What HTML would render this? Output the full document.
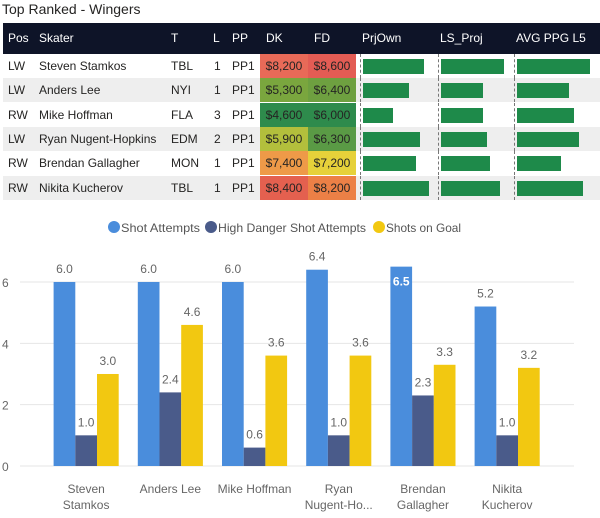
<!DOCTYPE html>
<html><head><meta charset="utf-8"><style>
body{margin:0;width:600px;height:518px;background:#fff;font-family:"Liberation Sans",sans-serif;overflow:hidden;position:relative}
.title{position:absolute;left:2px;top:1px;font-size:14px;color:#252423}
#tbl{position:absolute;left:3px;top:23px;width:597px;height:175px;font-size:12px;color:#252423}
.hdr{position:absolute;left:0;top:0;width:597px;height:31px;background:#0e1428;color:#fff}
.row{position:absolute;left:0;width:597px;height:24px}
.c{position:absolute;top:0;line-height:24px;white-space:nowrap}
.hdr .c{line-height:31px}
.cell{position:absolute;top:0;height:24px;line-height:24px;text-align:center;width:48px}
.dash{position:absolute;top:0;height:24px;border-left:1px dashed #777}
.bar{position:absolute;top:5px;height:15px;background:#1e8a4a}
</style></head><body>
<div class="title">Top Ranked - Wingers</div>
<div id="tbl">
<div class="hdr">
<span class="c" style="left:5px">Pos</span><span class="c" style="left:36px">Skater</span><span class="c" style="left:168px">T</span><span class="c" style="left:210px">L</span><span class="c" style="left:229px">PP</span><span class="c" style="left:263px">DK</span><span class="c" style="left:311px">FD</span><span class="c" style="left:359px">PrjOwn</span><span class="c" style="left:437px">LS_Proj</span><span class="c" style="left:513px">AVG PPG L5</span>
</div>
</div>
<svg id="ch" width="600" height="308" style="position:absolute;left:0;top:210px"></svg>
<script>
const players=["Steven Stamkos","Anders Lee","Mike Hoffman","Ryan Nugent-Hopkins","Brendan Gallagher","Nikita Kucherov"];
const pos=["LW","LW","RW","LW","RW","RW"];
const teams=["TBL","NYI","FLA","EDM","MON","TBL"];
const lines=[1,1,3,2,1,1];
const dk=["$8,200","$5,300","$4,600","$5,900","$7,400","$8,400"];
const fd=["$8,600","$6,400","$6,000","$6,300","$7,200","$8,200"];
const dkCol=["#e86a58","#7aa63e","#2e8b4c","#b3bf3c","#ee9a48","#e4604f"];
const fdCol=["#e35c54","#6ea040","#2e8b4c","#5a9a45","#e6d13a","#ec8046"];
const prjOwn=[61,46,30,57,53,66];
const lsProj=[63,42,42,46,49,59];
const avgPpg=[73,52,57,62,44,66];
const tbl=document.getElementById('tbl');
players.forEach((p,i)=>{
 const r=document.createElement('div');
 
 
 r.className='row';
 r.style.top=(31+i*24.3)+'px';
 r.style.background=i%2?'#eeeeee':'#fff';
 r.innerHTML=`<span class="c" style="left:5px">${pos[i]}</span><span class="c" style="left:36px">${p}</span><span class="c" style="left:168px">${teams[i]}</span><span class="c" style="left:211px">${lines[i]}</span><span class="c" style="left:229px">PP1</span>
 <div class="cell" style="left:257px;background:${dkCol[i]}">${dk[i]}</div><div class="cell" style="left:305px;background:${fdCol[i]}">${fd[i]}</div>
 <div class="dash" style="left:357px"></div><div class="bar" style="left:360px;width:${prjOwn[i]}px"></div>
 <div class="dash" style="left:435px"></div><div class="bar" style="left:438px;width:${lsProj[i]}px"></div>
 <div class="dash" style="left:511px"></div><div class="bar" style="left:514px;width:${avgPpg[i]}px"></div>`;
 tbl.appendChild(r);
});
const cats=[["Steven","Stamkos"],["Anders Lee"],["Mike Hoffman"],["Ryan","Nugent-Ho..."],["Brendan","Gallagher"],["Nikita","Kucherov"]];
const shotAtt=[6.0,6.0,6.0,6.4,6.5,5.2];
const hdAtt=[1.0,2.4,0.6,1.0,2.3,1.0];
const sog=[3.0,4.6,3.6,3.6,3.3,3.2];
const yTicks=[0,2,4,6];
const series=[{n:"Shot Attempts",v:shotAtt,c:"#4a8ddc"},{n:"High Danger Shot Attempts",v:hdAtt,c:"#4a5b8a"},{n:"Shots on Goal",v:sog,c:"#f2c811"}];
const svg=document.getElementById('ch');const NS="http://www.w3.org/2000/svg";
const y=v=>256-v*30.67, x0=53.6, gw=84.2, bw=21.7;
function mk(t,a,txt){const e=document.createElementNS(NS,t);for(const k in a)e.setAttribute(k,a[k]);if(txt!==undefined)e.textContent=txt;svg.appendChild(e);return e;}
yTicks.forEach(t=>{
 const l=mk('line',{x1:20,x2:574,y1:y(t),y2:y(t),stroke:"#e6e6e6"});
 
 
 const tx=mk('text',{x:2,y:y(t)+5,'font-size':12,fill:"#666"},t);
 
 
});
const lx=[114,211,379], lw=[79,148,75];
series.forEach((s,si)=>{
 const c=mk('circle',{cx:lx[si],cy:17,r:6,fill:s.c});
 
 
 const t=mk('text',{x:lx[si]+7,y:22,'font-size':12,fill:"#555",textLength:lw[si],lengthAdjust:'spacingAndGlyphs'},s.n);
 
 
 s.v.forEach((v,i)=>{
  const bx=x0+i*gw+si*bw;
  const r=mk('rect',{x:bx,y:y(v),width:bw,height:256-y(v),fill:s.c});
  
  
  const inside=(si===0&&v>=6.5);
  const t2=mk('text',{x:bx+bw/2,y:inside?y(v)+19:y(v)-9,'font-size':12,'text-anchor':'middle',fill:inside?"#fff":"#666",'font-weight':inside?'bold':'normal'},v.toFixed(1));
  
  
 });
});
cats.forEach((c,i)=>{
 const cx=x0+i*gw+bw*1.5;
 c.forEach((ln,j)=>{
  const t=mk('text',{x:cx,y:283+j*16,'font-size':12,'text-anchor':'middle',fill:"#666"},ln);
  
  
 });
});
</script>
</body></html>
